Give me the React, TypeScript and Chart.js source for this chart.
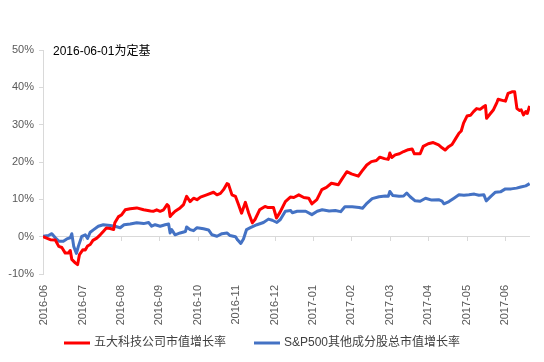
import React, { useEffect, useRef } from "react";
import { Chart, registerables } from "chart.js";

Chart.register(...registerables);

const FONT = '"Liberation Sans", Arial, "Noto Sans CJK SC", sans-serif';

const monthLabels = [
  "2016-06", "2016-07", "2016-08", "2016-09", "2016-10", "2016-11", "2016-12",
  "2017-01", "2017-02", "2017-03", "2017-04", "2017-05", "2017-06",
];
const seriesNames = ["五大科技公司市值增长率", "S&P500其他成分股总市值增长率"];
const baseNote = "2016-06-01为定基";
const yTickValues = [-10, 0, 10, 20, 30, 40, 50];
const xAxisMin = -0.03;
const xAxisMax = 12.65;

// x positions in months since the 2016-06 label
const redMonths = [
  -0.03, 0.16, 0.29, 0.38, 0.46, 0.55, 0.63, 0.68, 0.72, 0.81,
  0.87, 0.92, 1.01, 1.07, 1.13, 1.2, 1.27, 1.37, 1.46, 1.54,
  1.62, 1.72, 1.81, 1.84, 1.93, 2.02, 2.11, 2.24, 2.41, 2.59,
  2.77, 2.84, 2.93, 3.02, 3.11, 3.2, 3.24, 3.28, 3.32, 3.41,
  3.54, 3.63, 3.71, 3.8, 3.89, 3.98, 4.07, 4.23, 4.41, 4.5,
  4.59, 4.67, 4.76, 4.8, 4.89, 4.98, 5.06, 5.14, 5.24, 5.32,
  5.42, 5.49, 5.61, 5.75, 5.83, 5.97, 6.05, 6.14, 6.28, 6.41,
  6.5, 6.63, 6.76, 6.89, 6.97, 7.1, 7.23, 7.35, 7.48, 7.66,
  7.74, 7.88, 8.0, 8.18, 8.27, 8.4, 8.52, 8.65, 8.74, 8.86,
  8.96, 9.0, 9.05, 9.14, 9.25, 9.36, 9.48, 9.58, 9.64, 9.79,
  9.87, 10.0, 10.13, 10.27, 10.36, 10.44, 10.53, 10.62, 10.71, 10.8,
  10.86, 10.92, 11.01, 11.1, 11.18, 11.26, 11.35, 11.44, 11.49, 11.52,
  11.62, 11.7, 11.79, 11.82, 11.93, 12.01, 12.08, 12.18, 12.25, 12.31,
  12.38, 12.42, 12.48, 12.54, 12.58, 12.64,
];
const redValues = [
  0, -0.8, -0.9, -2.6, -2.9, -4.4, -4.4, -3.7, -6.1, -7.0,
  -7.5, -4.8, -3.5, -3.6, -2.5, -2.1, -1.0, -0.4, 0.5, 1.4,
  2.3, 2.2, 1.9, 3.7, 5.3, 5.9, 7.2, 7.5, 7.7, 7.2,
  6.9, 6.8, 7.2, 6.8, 7.2, 8.6, 8.2, 5.4, 5.9, 6.8,
  7.7, 8.6, 10.8, 9.4, 10.3, 9.9, 10.6, 11.2, 11.9, 11.2,
  11.6, 12.6, 14.2, 14.0, 11.2, 10.8, 8.6, 6.3, 9.2, 6.5,
  3.7, 4.6, 7.2, 8.1, 7.8, 7.8, 5.0, 6.5, 9.4, 10.6,
  10.5, 11.2, 10.5, 10.3, 8.8, 9.9, 12.6, 13.2, 14.3, 13.9,
  15.2, 17.4, 16.8, 16.2, 17.5, 19.2, 20.1, 20.4, 21.3, 20.9,
  20.7, 22.4, 21.2, 21.9, 22.2, 22.8, 23.3, 23.5, 22.2, 22.2,
  24.2, 24.9, 25.2, 24.6, 23.8, 23.2, 24.1, 24.7, 26.2, 27.7,
  28.3, 30.4, 32.3, 32.5, 33.5, 34.3, 34.1, 34.8, 35.1, 31.7,
  33.0, 34.0, 36.0, 36.8, 36.5, 36.3, 38.4, 38.8, 38.8, 34.3,
  33.8, 34.0, 32.6, 33.5, 33.0, 35.0,
];

const blueMonths = [
  -0.03, 0.11, 0.2, 0.29, 0.38, 0.5, 0.59, 0.68, 0.72, 0.77,
  0.84, 0.89, 0.98, 1.07, 1.13, 1.2, 1.29, 1.41, 1.54, 1.72,
  1.84, 1.98, 2.08, 2.24, 2.41, 2.59, 2.72, 2.8, 2.89, 3.02,
  3.15, 3.24, 3.28, 3.32, 3.41, 3.54, 3.68, 3.71, 3.8, 3.89,
  3.98, 4.15, 4.28, 4.37, 4.5, 4.63, 4.76, 4.84, 4.98, 5.04,
  5.12, 5.19, 5.27, 5.37, 5.54, 5.71, 5.84, 5.94, 6.06, 6.15,
  6.28, 6.42, 6.46, 6.59, 6.81, 6.97, 7.11, 7.24, 7.42, 7.58,
  7.72, 7.83, 8.02, 8.2, 8.29, 8.41, 8.54, 8.72, 8.88, 8.96,
  9.0, 9.08, 9.24, 9.36, 9.44, 9.53, 9.66, 9.79, 9.93, 10.09,
  10.27, 10.36, 10.41, 10.54, 10.67, 10.8, 10.93, 11.06, 11.2, 11.32,
  11.45, 11.51, 11.63, 11.75, 11.88, 12.01, 12.16, 12.3, 12.41, 12.54,
  12.64,
];
const blueValues = [
  0.1, 0.3, 0.8, -0.3, -1.2, -1.2, -0.6, -0.3, 0.8, -2.6,
  -4.5, -2.6, 0.1, 0.5, -0.5, 1.2, 1.9, 2.8, 3.2, 3.0,
  2.8, 2.4, 3.2, 3.4, 3.7, 3.5, 3.8, 2.8, 3.2, 2.8,
  3.2, 3.4, 1.0, 1.9, 0.5, 1.0, 1.4, 2.6, 1.9, 1.6,
  2.4, 2.1, 1.8, 0.5, 0.1, 0.8, 1.0, 0.3, 0.0, -0.9,
  -1.8, -0.6, 1.9, 2.4, 3.2, 3.8, 4.7, 4.4, 3.8, 4.6,
  6.8, 7.0, 6.4, 6.8, 6.8, 5.9, 6.8, 7.2, 6.9, 7.0,
  6.7, 8.0, 8.0, 7.8, 7.6, 9.0, 10.2, 10.7, 10.9, 10.8,
  12.1, 11.0, 10.8, 10.9, 11.7, 10.7, 9.6, 9.5, 10.3, 9.8,
  9.9, 9.5, 8.8, 9.4, 10.3, 11.2, 11.1, 11.2, 11.4, 11.1,
  11.2, 9.6, 10.8, 11.9, 12.0, 12.8, 12.8, 13.0, 13.3, 13.6,
  14.2,
];

const seriesColors = ["#FF0000", "#4472C4"];

function toPoints(xs: number[], ys: number[]) {
  const n = Math.min(xs.length, ys.length);
  const out: { x: number; y: number }[] = [];
  for (let i = 0; i < n; i++) out.push({ x: xs[i], y: ys[i] });
  return out;
}

const notePlugin = {
  id: "baseNote",
  afterDraw(chart: any) {
    const { ctx, chartArea } = chart;
    ctx.save();
    ctx.font = `12px ${FONT}`;
    ctx.fillStyle = "#000000";
    ctx.textBaseline = "middle";
    ctx.textAlign = "left";
    ctx.fillText(baseNote, chartArea.left + 10, chartArea.top + 2);
    ctx.restore();
  },
};

// legend drawn below the axis labels: line sample, then text
const LEGEND_SAMPLE = 26;
const LEGEND_TEXT_GAP = 4;
const LEGEND_ITEM_GAP = 28;
const LEGEND_SHIFT = -10;
const legendPlugin = {
  id: "lineLegend",
  afterDraw(chart: any) {
    const { ctx, width, height } = chart;
    ctx.save();
    ctx.font = `12px ${FONT}`;
    const widths = seriesNames.map((t) => ctx.measureText(t).width);
    let total = 0;
    widths.forEach((w, i) => {
      total += LEGEND_SAMPLE + LEGEND_TEXT_GAP + w + (i > 0 ? LEGEND_ITEM_GAP : 0);
    });
    let x = Math.round(width / 2 - total / 2 + LEGEND_SHIFT);
    const y = height - 19;
    seriesNames.forEach((t, i) => {
      ctx.strokeStyle = seriesColors[i];
      ctx.lineWidth = 3;
      ctx.beginPath();
      ctx.moveTo(x, y);
      ctx.lineTo(x + LEGEND_SAMPLE, y);
      ctx.stroke();
      x += LEGEND_SAMPLE + LEGEND_TEXT_GAP;
      ctx.fillStyle = "#404040";
      ctx.textBaseline = "middle";
      ctx.textAlign = "left";
      ctx.fillText(t, x, y);
      x += widths[i] + LEGEND_ITEM_GAP;
    });
    ctx.restore();
  },
};

const zeroTicksPlugin = {
  id: "zeroTicks",
  beforeDatasetsDraw(chart: any) {
    const { ctx, scales } = chart;
    const x = scales.x;
    const y = scales.y;
    const y0 = Math.round(y.getPixelForValue(0));
    ctx.save();
    ctx.strokeStyle = "#d9d9d9";
    ctx.lineWidth = 1;
    ctx.beginPath();
    for (let i = 1; i < monthLabels.length; i++) {
      const px = Math.round(x.getPixelForValue(i)) + 0.5;
      ctx.moveTo(px, y0);
      ctx.lineTo(px, y0 + 4);
    }
    ctx.stroke();
    ctx.restore();
  },
};

export default function App() {
  const ref = useRef<HTMLCanvasElement>(null);
  useEffect(() => {
    document.body.style.margin = "0";
    const chart = new Chart(ref.current as HTMLCanvasElement, {
      type: "line",
      data: {
        datasets: [
          {
            label: seriesNames[0],
            data: toPoints(redMonths, redValues),
            borderColor: seriesColors[0],
            backgroundColor: seriesColors[0],
            borderWidth: 3,
            pointRadius: 0,
            tension: 0,
            fill: false,
            borderJoinStyle: "round",
          },
          {
            label: seriesNames[1],
            data: toPoints(blueMonths, blueValues),
            borderColor: seriesColors[1],
            backgroundColor: seriesColors[1],
            borderWidth: 3,
            pointRadius: 0,
            tension: 0,
            fill: false,
            borderJoinStyle: "round",
          },
        ],
      },
      options: {
        responsive: false,
        animation: false,
        layout: { padding: { top: 50, right: 14, bottom: 35, left: 0 } },
        plugins: {
          tooltip: { enabled: false },
          legend: { display: false },
        },
        scales: {
          x: {
            type: "linear",
            min: xAxisMin,
            max: xAxisMax,
            afterBuildTicks: (s: any) => {
              s.ticks = monthLabels.map((_, i) => ({ value: i }));
            },
            afterFit: (s: any) => {
              s.height = 53;
            },
            ticks: {
              autoSkip: false,
              minRotation: 90,
              maxRotation: 90,
              padding: 3,
              color: "#595959",
              font: { size: 11, family: FONT },
              callback: (v: any) => monthLabels[Math.round(Number(v))],
            },
            grid: { display: false },
            border: { display: false },
          },
          y: {
            min: -10,
            max: 50,
            afterBuildTicks: (s: any) => {
              s.ticks = yTickValues.map((v) => ({ value: v }));
            },
            afterFit: (s: any) => {
              s.width = 43;
            },
            ticks: {
              padding: 5,
              color: "#595959",
              font: { size: 11, family: FONT },
              callback: (v: any) => `${v}%`,
            },
            grid: {
              color: (ctx: any) =>
                ctx.tick && ctx.tick.value === 0 ? "#d9d9d9" : "rgba(0,0,0,0)",
              tickColor: "#d9d9d9",
              tickLength: 4,
              lineWidth: 1,
            },
            border: { color: "#d9d9d9", width: 1 },
          },
        },
      },
      plugins: [notePlugin, zeroTicksPlugin, legendPlugin],
    } as any);
    return () => chart.destroy();
  }, []);
  return (
    <canvas ref={ref} width={544} height={362} style={{ display: "block" }} />
  );
}
